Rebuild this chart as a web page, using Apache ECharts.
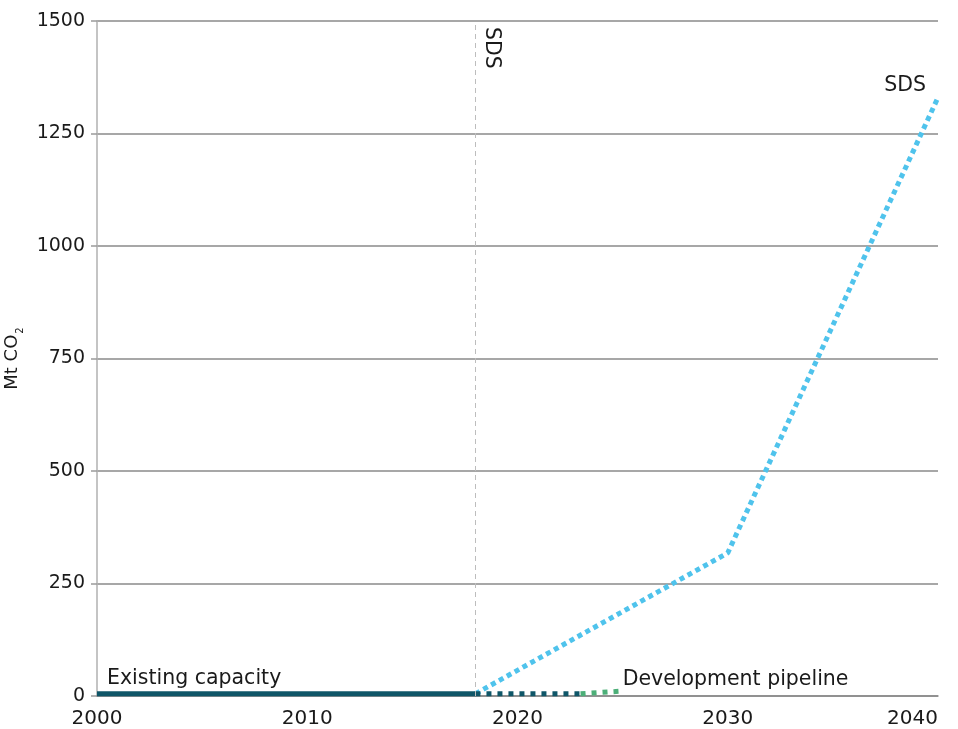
<!DOCTYPE html>
<html>
<head>
<meta charset="utf-8">
<script src="https://cdn.jsdelivr.net/npm/echarts@6/dist/echarts.min.js"></script>
<style>
html,body{margin:0;padding:0;background:#fff;}
#chart{width:958px;height:729px;}
</style>
</head>
<body>
<div id="chart"></div>
<script>
var FONT = 'DejaVu Sans';
var xTicks = [2000, 2010, 2020, 2030, 2040];
var yTicks = [0, 250, 500, 750, 1000, 1250, 1500];
var existingSolid = [[2000, 5], [2018, 5]];
var existingDotted = [[2018, 5], [2023, 5]];
var pipeline = [[2023, 5], [2024, 8], [2025, 11]];
var sds = [[2018, 5], [2030, 318], [2040, 1330]];
var markYear = 2018;
var labels = {
  existing: 'Existing capacity',
  pipeline: 'Development pipeline',
  sds: 'SDS',
  marker: 'SDS'
};

var chart = echarts.init(document.getElementById('chart'));
var option = {
  animation: false,
  grid: { left: 97, right: 20, top: 21, bottom: 33, containLabel: false, outerBoundsMode: 'none' },
  xAxis: {
    type: 'value', min: xTicks[0], max: xTicks[xTicks.length - 1], interval: 10,
    axisLine: { show: true, lineStyle: { color: '#8a8a8a', width: 1.5 } },
    axisTick: { show: false },
    splitLine: { show: false },
    axisLabel: { color: '#1a1a1a', fontFamily: FONT, fontSize: 20, margin: 13, hideOverlap: false, alignMaxLabel: 'right', formatter: function (v) { return String(v); } }
  },
  yAxis: {
    type: 'value', min: yTicks[0], max: yTicks[yTicks.length - 1], interval: 250,
    name: '{a|Mt CO}{s|2}', nameLocation: 'middle', nameGap: 57, nameRotate: 90,
    nameTextStyle: {
      rich: {
        a: { fontFamily: FONT, fontSize: 18, color: '#1a1a1a' },
        s: { fontFamily: FONT, fontSize: 10, color: '#1a1a1a', verticalAlign: 'bottom', padding: [0, 0, -4, 1] }
      }
    },
    axisLine: { show: true, lineStyle: { color: '#b0b0b0', width: 1.5 } },
    axisTick: { show: true, length: 6, lineStyle: { color: '#9a9a9a', width: 1.5 } },
    splitLine: { show: true, lineStyle: { color: '#8a8a8a', width: 1.5 } },
    axisLabel: { color: '#1a1a1a', fontFamily: FONT, fontSize: 19, margin: 12, formatter: function (v) { return String(v); } }
  },
  series: [
    {
      type: 'line', data: sds, symbol: 'none', z: 3,
      lineStyle: { color: '#4fc3ec', width: 5, type: [5, 4], cap: 'butt' }
    },
    {
      type: 'line', data: existingSolid, symbol: 'none', z: 4,
      lineStyle: { color: '#0f5668', width: 5 },
      markLine: {
        silent: true, symbol: 'none',
        lineStyle: { color: '#bdbdbd', width: 1, type: [5, 4] },
        label: { show: false },
        data: [{ xAxis: markYear }]
      }
    },
    {
      type: 'line', data: existingDotted, symbol: 'none', z: 4,
      lineStyle: { color: '#0f5668', width: 5, type: [5, 6], cap: 'butt' }
    },
    {
      type: 'line', data: pipeline, symbol: 'none', z: 4,
      lineStyle: { color: '#4caf78', width: 5, type: [5, 6], cap: 'butt' }
    }
  ]
};
chart.setOption(option);

function px(pt) { return chart.convertToPixel({ gridIndex: 0 }, pt); }
var pE = px([existingSolid[0][0], existingSolid[0][1]]);
var pP = px([pipeline[pipeline.length - 1][0], pipeline[pipeline.length - 1][1]]);
var pS = px([sds[sds.length - 1][0], sds[sds.length - 1][1]]);
var pM = px([markYear, yTicks[yTicks.length - 1]]);
var ts = { fontFamily: FONT, fontSize: 20.5, fill: '#1a1a1a' };
chart.setOption({
  graphic: [
    { type: 'text', x: pE[0] + 10, y: pE[1] - 5, style: Object.assign({ text: labels.existing, textVerticalAlign: 'bottom' }, ts) },
    { type: 'text', x: pP[0] + 0, y: pP[1] - 1, style: Object.assign({ text: labels.pipeline, textVerticalAlign: 'bottom' }, ts) },
    { type: 'text', x: pS[0] - 12, y: pS[1] - 1, style: Object.assign({ text: labels.sds, textAlign: 'right', textVerticalAlign: 'bottom' }, ts) },
    { type: 'text', x: pM[0] + 16, y: pM[1] + 6, rotation: -Math.PI / 2, style: Object.assign({ text: labels.marker, textAlign: 'left', textVerticalAlign: 'middle' }, ts) }
  ]
});
</script>
</body>
</html>
